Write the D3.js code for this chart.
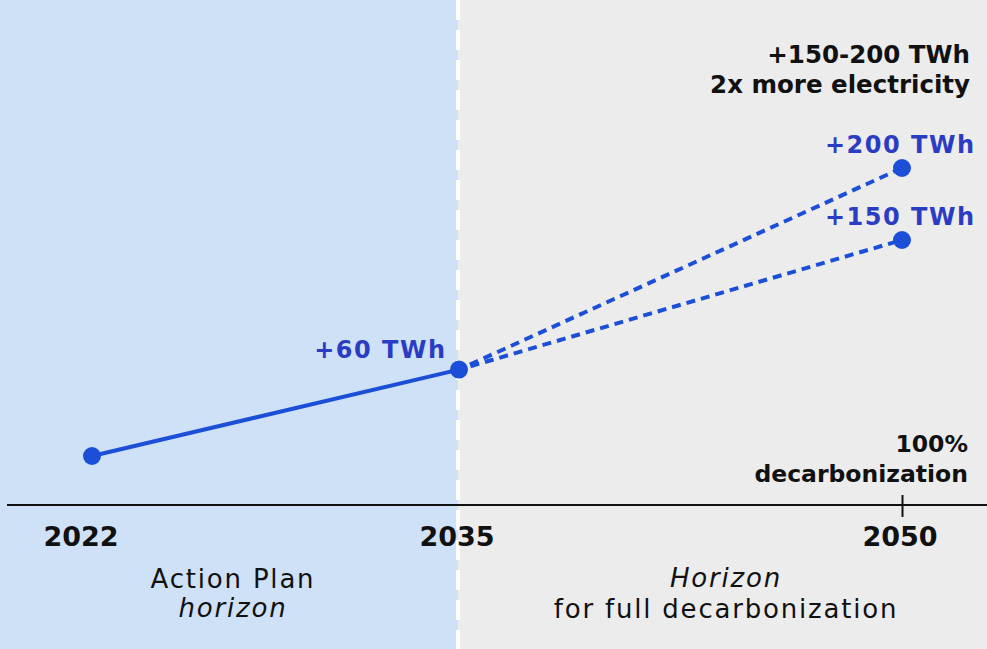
<!DOCTYPE html>
<html>
<head>
<meta charset="utf-8">
<script src="https://cdn.jsdelivr.net/npm/d3@7"></script>
<style>
  body { margin: 0; background: #ececec; }
  svg { display: block; font-family: "DejaVu Sans", "Open Sans", sans-serif; }
</style>
</head>
<body>
<svg id="chart" width="987" height="649"></svg>
<script>
// years on the axis
var years = [2022, 2035, 2050];
// extra TWh compared with 2022
var solidLine = [{year: 2022, value: 0}, {year: 2035, value: 60}];
var highPath = [{year: 2035, value: 60}, {year: 2050, value: 200}];
var lowPath = [{year: 2035, value: 60}, {year: 2050, value: 150}];
var pointLabels = [
  {year: 2035, value: 60, text: "+60 TWh"},
  {year: 2050, value: 200, text: "+200 TWh"},
  {year: 2050, value: 150, text: "+150 TWh"}
];

var svg = d3.select("#chart");
var W = 987, H = 649;
var blue = "#1c4fd8", labelBlue = "#2b3cc4";

// the gap between years is not even in the picture, so use a polylinear scale
var x = d3.scaleLinear().domain(years).range([92, 459, 902]);
var y = d3.scaleLinear().domain([0, 200]).range([456, 168]);
var axisY = 505;

// backgrounds
svg.append("rect").attr("x", 0).attr("y", 0).attr("width", W).attr("height", H).attr("fill", "#ececec");
svg.append("rect").attr("x", 0).attr("y", 0).attr("width", x(2035) - 1).attr("height", H).attr("fill", "#cfe1f7");
svg.append("line")
  .attr("x1", x(2035) - 1).attr("x2", x(2035) - 1)
  .attr("y1", 0).attr("y2", H)
  .attr("stroke", "#fff").attr("stroke-width", 4)
  .attr("stroke-dasharray", "20,10");

// axis
var axis = d3.axisBottom(x).tickValues([2050]).tickSize(12).tickFormat("");
var gAxis = svg.append("g").attr("transform", "translate(0," + axisY + ")").call(axis);
gAxis.select(".domain").remove();
gAxis.selectAll(".tick line").attr("stroke", "#111").attr("stroke-width", 2).attr("y1", -10);
svg.append("line").attr("x1", 7).attr("x2", W).attr("y1", axisY).attr("y2", axisY)
  .attr("stroke", "#111").attr("stroke-width", 2);

svg.selectAll(".year").data(years).enter().append("text")
  .attr("class", "year")
  .attr("x", function (d, i) { return x(d) - (i === 0 ? 11 : 2); })
  .attr("y", 546)
  .attr("text-anchor", "middle")
  .attr("font-size", 27).attr("font-weight", 700).attr("fill", "#111")
  .text(function (d) { return d; });

// lines
var line = d3.line().x(function (d) { return x(d.year); }).y(function (d) { return y(d.value); });
svg.append("path").datum(solidLine).attr("d", line)
  .attr("fill", "none").attr("stroke", blue).attr("stroke-width", 4);
[highPath, lowPath].forEach(function (p) {
  svg.append("path").datum(p).attr("d", line)
    .attr("fill", "none").attr("stroke", blue).attr("stroke-width", 4)
    .attr("stroke-dasharray", "9,6").attr("stroke-dashoffset", -12);
});

var dots = solidLine.concat([highPath[1], lowPath[1]]);
svg.selectAll(".dot").data(dots).enter().append("circle")
  .attr("cx", function (d) { return x(d.year); })
  .attr("cy", function (d) { return y(d.value); })
  .attr("r", 9).attr("fill", blue);

// point labels
svg.selectAll(".plabel").data(pointLabels).enter().append("text")
  .attr("x", function (d) { return d.year === 2035 ? x(d.year) - 12.5 : 975.5; })
  .attr("y", function (d) { return y(d.value) - (d.year === 2035 ? 12 : 15); })
  .attr("text-anchor", "end")
  .attr("font-size", 24).attr("font-weight", 700).attr("letter-spacing", 1.5)
  .attr("fill", labelBlue)
  .text(function (d) { return d.text; });

// annotations
function block(lines, xx, yy, anchor, dy) {
  var t = svg.append("text").attr("x", xx).attr("y", yy).attr("text-anchor", anchor).attr("fill", "#111");
  lines.forEach(function (l, i) {
    t.append("tspan").attr("x", xx).attr("y", yy + i * dy)
      .attr("font-size", l.size).attr("font-weight", l.weight)
      .attr("letter-spacing", l.ls || 0)
      .attr("font-style", l.italic ? "italic" : "normal")
      .text(l.text);
  });
}
block([{text: "+150-200 TWh", size: 24.5, weight: 700}, {text: "2x more electricity", size: 24.5, weight: 700}], 970, 63, "end", 30);
block([{text: "100%", size: 23.5, weight: 700}, {text: "decarbonization", size: 23.5, weight: 700}], 968, 452, "end", 30);
block([{text: "Action Plan", size: 26, weight: 400, ls: 1.8}, {text: "horizon", size: 26, weight: 400, italic: true, ls: 1.8}], 233, 588, "middle", 29);
block([{text: "Horizon", size: 26, weight: 400, italic: true, ls: 1.8}, {text: "for full decarbonization", size: 26, weight: 400, ls: 1.8}], 726, 587, "middle", 31);
</script>
</body>
</html>
